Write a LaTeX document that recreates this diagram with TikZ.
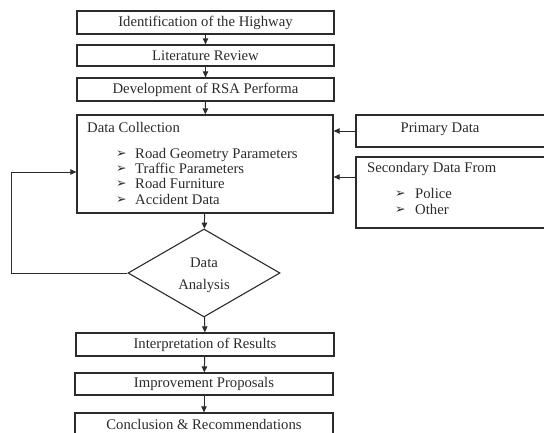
\documentclass[tikz,border=0pt]{standalone}
\usepackage{fontspec}
\setmainfont{Liberation Serif}
\newfontfamily\bulletfont{DejaVu Sans}
\usetikzlibrary{arrows.meta,shapes.geometric}
\definecolor{ink}{HTML}{2B2B2B}
\tikzset{
  stepbox/.style={draw=ink, line width=1.3pt, rectangle, inner sep=0pt,
    minimum width=257pt, minimum height=23pt, text=ink, font=\fontsize{14.7}{15}\selectfont},
  flow/.style={draw=ink, line width=1pt, -{Triangle[length=6pt,width=5.5pt]}},
  lbl/.style={text=ink, inner sep=0pt, font=\fontsize{14.7}{15}\selectfont},
  bul/.style={text=ink, inner sep=0pt, font=\bulletfont\fontsize{12.5}{13}\selectfont}
}
\newcommand{\arrbullet}{\char"27A2}
\begin{document}
\begin{tikzpicture}[x=1pt,y=-1pt]
\useasboundingbox (0,0) rectangle (544,432);
% main column
\node[stepbox] (ident) at (205.5,22.5) {Identification of the Highway};
\node[stepbox, minimum height=21pt] (lit) at (205.5,55.5) {Literature Review};
\node[stepbox] (perf) at (205.5,89.5) {Development of RSA Performa};
\node[stepbox, minimum width=256pt, minimum height=98pt] (coll) at (205,164) {};
\node[diamond, draw=ink, line width=1.1pt, inner sep=0pt, shape aspect=1.727,
      minimum width=152pt, minimum height=88pt] (anal) at (204,273) {};
\node[stepbox, minimum width=258pt] (interp) at (205,344.5) {Interpretation of Results};
\node[stepbox, minimum width=258pt, minimum height=22pt] (impr) at (204,384) {Improvement Proposals};
\node[stepbox, minimum width=258pt] (concl) at (204,424.5) {Conclusion \& Recommendations};
% data sources
\node[stepbox, minimum width=204pt, minimum height=32pt] (prim) at (458,131) {};
\node[stepbox, minimum width=204pt, minimum height=71pt] (sec) at (458,192.5) {};
% texts of the collection box
\node[lbl, anchor=base west] (colltitle) at (87,132) {Data Collection};
\foreach \y/\t [count=\i] in {158/Road Geometry Parameters,173/Traffic Parameters,188/Road Furniture,204/Accident Data}{
  \node[bul, anchor=base west] (cb\i) at (116,\y-0.5) {\arrbullet};
  \node[lbl, anchor=base west] (ct\i) at (135,\y) {\t};
}
% texts of the source boxes
\node[lbl, anchor=base] (primtitle) at (440,132) {Primary Data};
\node[lbl, anchor=base west] (sectitle) at (367,172) {Secondary Data From};
\foreach \y/\t [count=\i] in {198/Police,214/Other}{
  \node[bul, anchor=base west] (sb\i) at (395,\y-0.5) {\arrbullet};
  \node[lbl, anchor=base west] (st\i) at (415,\y) {\t};
}
% diamond text
\node[lbl, anchor=base] (dtop) at (204,267) {Data};
\node[lbl, anchor=base] (dbot) at (204,289) {Analysis};
% connectors
\coordinate (secout) at ([yshift=15.5pt]sec.west);
\coordinate (collin) at ([yshift=-8pt]coll.west);
\coordinate (loopc) at (11,273);
\draw[flow] (ident) -- (lit);
\draw[flow] (lit) -- (perf);
\draw[flow] (perf) -- (coll);
\draw[flow] (prim.west) -- (coll.east |- prim.west);
\draw[flow] (secout) -- (coll.east |- secout);
\draw[flow] (coll) -- (anal);
\draw[flow] (anal.west) -- (loopc) |- (collin);
\draw[flow] (anal) -- (interp);
\draw[flow] (interp) -- (impr);
\draw[flow] (impr) -- (concl);
\end{tikzpicture}
\end{document}
